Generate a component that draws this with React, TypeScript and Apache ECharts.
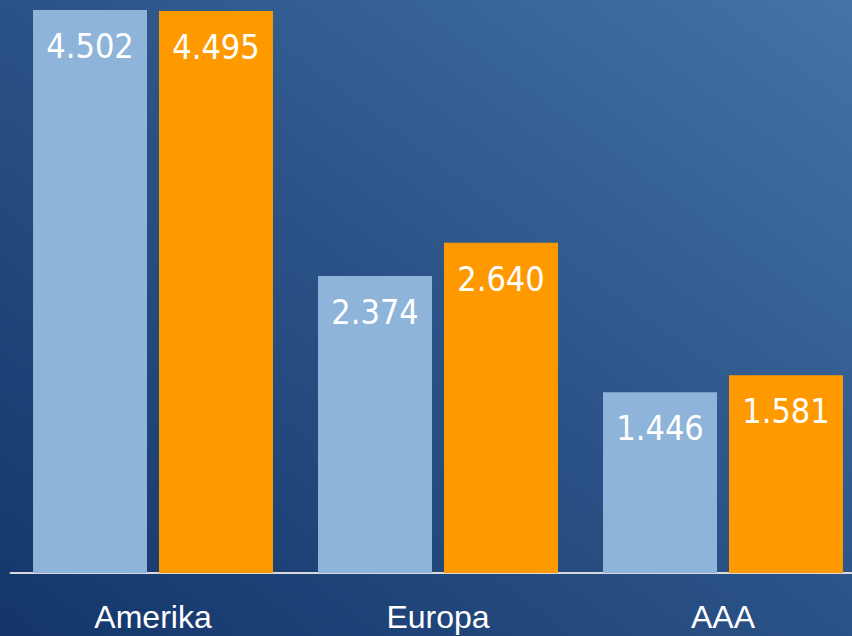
import React, { useEffect, useRef } from "react";
import * as echarts from "echarts";

const categories = ["Amerika", "Europa", "AAA"];
const seriesA = [4.502, 2.374, 1.446];
const seriesB = [4.495, 2.64, 1.581];
const colorA = "#8eb4da";
const colorB = "#ff9900";

const fmt = (v: number) => v.toFixed(3);

export default function App() {
  const ref = useRef<HTMLDivElement>(null);
  useEffect(() => {
    document.body.style.margin = "0";
    const chart = echarts.init(ref.current!, null, { renderer: "svg" });
    const labelStyle = {
      show: true,
      position: "insideTop" as const,
      distance: 19,
      color: "#ffffff",
      fontSize: 34,
      fontFamily: "'DejaVu Sans Condensed', 'DejaVu Sans', sans-serif",
      formatter: (p: any) => fmt(p.value),
    };
    chart.setOption({
      animation: false,
      backgroundColor: "transparent",
      grid: { left: 10.5, right: 0.5, top: 10, bottom: 63, containLabel: false },
      xAxis: {
        type: "category",
        data: categories,
        axisLine: { show: true, lineStyle: { color: "#d9d9d9", width: 2 } },
        axisTick: { show: false },
        axisLabel: {
          color: "#ffffff",
          fontSize: 32,
          margin: 28,
          fontFamily: "'Liberation Sans', Arial, sans-serif",
        },
      },
      yAxis: {
        type: "value",
        min: 0,
        max: 4.502,
        show: false,
        splitLine: { show: false },
      },
      series: [
        {
          type: "bar",
          data: seriesA,
          barWidth: 114,
          barGap: "10.5%",
          itemStyle: { color: colorA },
          label: labelStyle,
        },
        {
          type: "bar",
          data: seriesB,
          barWidth: 114,
          itemStyle: { color: colorB },
          label: labelStyle,
        },
      ],
    });
    return () => chart.dispose();
  }, []);
  return (
    <div
      style={{
        position: "fixed",
        left: 0,
        top: 0,
        width: 852,
        height: 636,
        overflow: "hidden",
        background: "linear-gradient(to top right, #13356a 0%, #2b5286 50%, #4473a6 100%)",
      }}
    >
      <div ref={ref} style={{ width: 866, height: 636 }} />
    </div>
  );
}
